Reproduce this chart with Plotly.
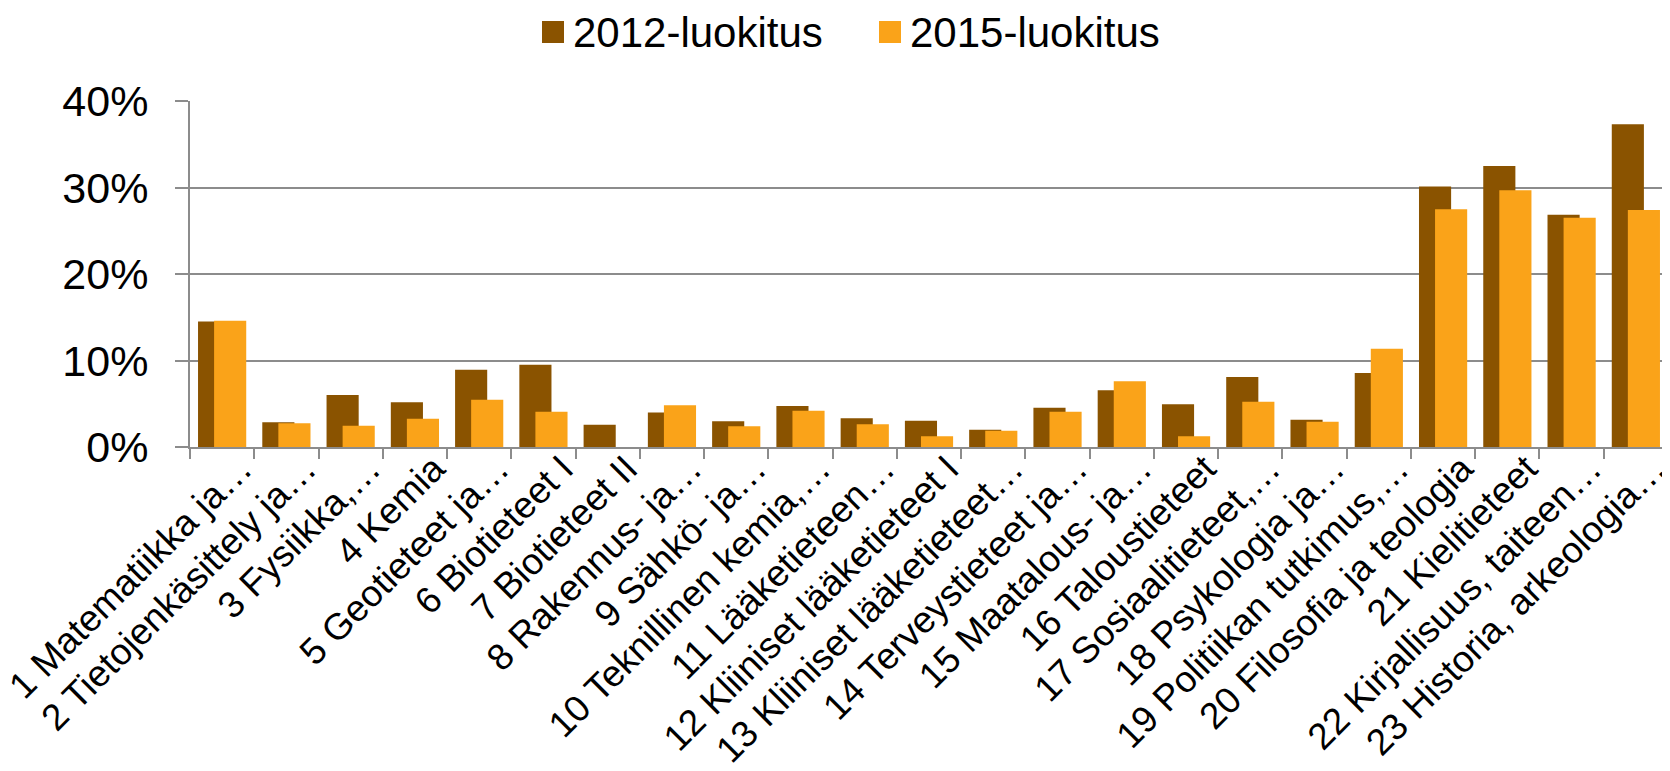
import plotly.graph_objects as go

categories = [
    "1 Matematiikka ja…", "2 Tietojenkäsittely ja…", "3 Fysiikka,…", "4 Kemia",
    "5 Geotieteet ja…", "6 Biotieteet I", "7 Biotieteet II", "8 Rakennus- ja…",
    "9 Sähkö- ja…", "10 Teknillinen kemia,…", "11 Lääketieteen…",
    "12 Kliiniset lääketieteet I", "13 Kliiniset lääketieteet…", "14 Terveystieteet ja…",
    "15 Maatalous- ja…", "16 Taloustieteet", "17 Sosiaalitieteet,…", "18 Psykologia ja…",
    "19 Politiikan tutkimus,…", "20 Filosofia ja teologia", "21 Kielitieteet",
    "22 Kirjallisuus, taiteen…", "23 Historia, arkeologia…",
]
series_names = ["2012-luokitus", "2015-luokitus"]
values_2012 = [14.5, 2.85, 6.0, 5.16, 8.94, 9.52, 2.58, 4.0, 2.97, 4.74, 3.31, 3.04,
               2.0, 4.55, 6.55, 4.93, 8.09, 3.16, 8.55, 30.13, 32.5, 26.86, 37.3]
values_2015 = [14.6, 2.74, 2.47, 3.28, 5.47, 4.08, 0.0, 4.82, 2.39, 4.2, 2.62, 1.23,
               1.89, 4.08, 7.59, 1.23, 5.24, 2.93, 11.37, 27.5, 29.67, 26.5, 27.4]
y_ticks = [0, 10, 20, 30, 40]

c2012 = "#8A5300"
c2015 = "#FAA319"
FONT = "Liberation Sans, Arial, sans-serif"

# page body has an 8px margin; figure is sized to fill the rest of the window
OFF = 8
W, H = 1670 - OFF, 771 - OFF
L, T, B = 190 - OFF, 101 - OFF, 324
R = 2
PW = W - L - R
PH = H - T - B

def px_x(x):  # page pixel -> paper x
    return (x - OFF - L) / PW

def px_y(y):  # page pixel -> paper y
    return (T + PH - (y - OFF)) / PH

fig = go.Figure()
fig.add_trace(go.Bar(x=categories, y=values_2012, name=series_names[0],
                     marker=dict(color=c2012, line=dict(width=0)),
                     width=0.5, offset=-0.375, showlegend=False))
fig.add_trace(go.Bar(x=categories, y=values_2015, name=series_names[1],
                     marker=dict(color=c2015, line=dict(width=0)),
                     width=0.5, offset=-0.125, showlegend=False))

# legend drawn as shapes + text
leg = [(542, series_names[0], c2012), (879, series_names[1], c2015)]
for x0, name, col in leg:
    fig.add_shape(type="rect", xref="paper", yref="paper",
                  x0=px_x(x0), x1=px_x(x0 + 22),
                  y0=px_y(43), y1=px_y(21),
                  fillcolor=col, line=dict(width=0))
    fig.add_annotation(text=name, xref="paper", yref="paper",
                       x=px_x(x0 + 29), y=px_y(32),
                       xanchor="left", yanchor="middle", showarrow=False,
                       font=dict(family=FONT, size=42, color="black"))

fig.update_layout(
    width=W, height=H,
    barmode="overlay",
    plot_bgcolor="white", paper_bgcolor="white",
    margin=dict(l=L, r=R, t=T, b=B),
    font=dict(family=FONT, color="black"),
    showlegend=False,
)
fig.update_xaxes(
    type="category", tickangle=-45, tickfont=dict(size=37, family=FONT, color="black"),
    showline=True, linecolor="#8C8C8C", linewidth=2,
    ticks="outside", tickson="boundaries", ticklen=10, tickcolor="#8C8C8C", tickwidth=1.5,
    ticklabelstandoff=-17, ticklabelshift=19,
    showgrid=False, automargin=False, range=[-0.5, 22.5],
)
fig.update_yaxes(
    range=[0, 40], tickvals=y_ticks, ticktext=[f"{v}%" for v in y_ticks],
    tickfont=dict(size=43, family=FONT, color="black"),
    showgrid=True, gridcolor="#8C8C8C", gridwidth=2,
    showline=True, linecolor="#8C8C8C", linewidth=2,
    ticks="outside", ticklen=13, tickcolor="#8C8C8C", tickwidth=2,
    ticklabelstandoff=18,
    zeroline=False, automargin=False,
)

fig.write_html("out.html")
